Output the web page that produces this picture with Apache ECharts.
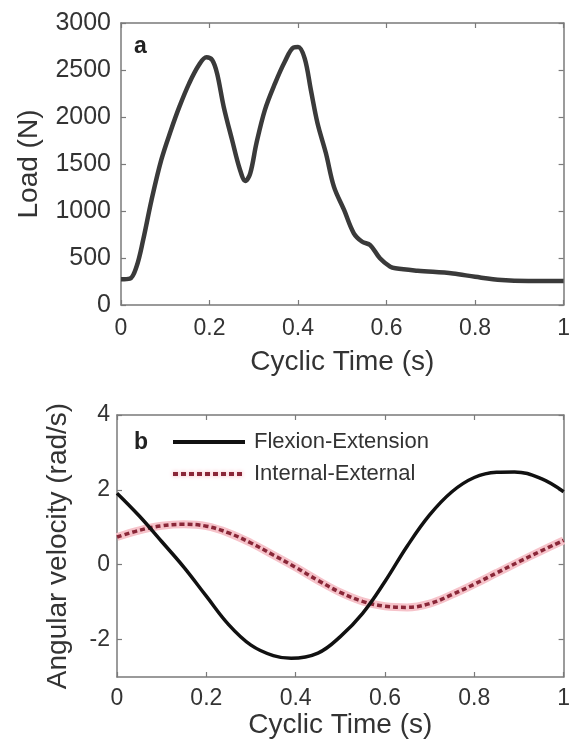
<!DOCTYPE html>
<html><head><meta charset="utf-8">
<script src="https://cdn.jsdelivr.net/npm/echarts@6/dist/echarts.min.js"></script>
<style>html,body{margin:0;padding:0;background:#fff}#c{width:573px;height:745px}</style>
</head><body><div id="c"></div>
<script>
// Panel a: load vs cyclic time
const loadTime  = [0, 0.02, 0.035, 0.05, 0.069, 0.091, 0.113, 0.132, 0.154, 0.176, 0.193, 0.206, 0.217, 0.232, 0.251, 0.269, 0.281, 0.292, 0.306, 0.325, 0.348, 0.37, 0.39, 0.4, 0.415, 0.429, 0.444, 0.463, 0.481, 0.504, 0.526, 0.545, 0.563, 0.585, 0.608, 0.62, 0.67, 0.75, 0.8, 0.86, 0.92, 1.0];
const loadValue = [273, 280, 407, 691, 1117, 1543, 1862, 2110, 2358, 2553, 2635, 2606, 2465, 2110, 1755, 1436, 1320, 1401, 1720, 2074, 2358, 2588, 2740, 2745, 2624, 2287, 1933, 1614, 1259, 1011, 763, 673, 638, 497, 408, 390, 365, 335, 300, 265, 255, 255];
// Panel b: angular velocity
const feTime  = [0, 0.05, 0.1, 0.15, 0.2, 0.25, 0.3, 0.35, 0.39, 0.45, 0.5, 0.55, 0.6, 0.65, 0.7, 0.75, 0.8, 0.85, 0.89, 0.95, 1.0];
const feValue = [1.91, 1.3, 0.62, -0.07, -0.84, -1.6, -2.15, -2.43, -2.5, -2.36, -1.92, -1.3, -0.45, 0.5, 1.33, 1.95, 2.33, 2.47, 2.48, 2.3, 1.95];
const ieTime  = [0, 0.05, 0.1, 0.15, 0.2, 0.25, 0.3, 0.35, 0.4, 0.45, 0.5, 0.55, 0.6, 0.65, 0.7, 0.75, 0.8, 0.85, 0.9, 0.95, 1.0];
const ieValue = [0.74, 0.92, 1.04, 1.08, 1.03, 0.85, 0.58, 0.26, -0.07, -0.42, -0.74, -0.98, -1.11, -1.14, -1.04, -0.8, -0.52, -0.22, 0.08, 0.37, 0.65];
const seriesNames = ['Flexion-Extension', 'Internal-External'];
const velTicks = [-2, 0, 2, 4];

const zip = (a, b) => a.map((t, i) => [t, b[i]]);
const FONT = "'Liberation Sans', Arial, sans-serif";
const frameLine = { show: true, onZero: false, lineStyle: { color: '#7a7a7a', width: 1.5 } };
const tick = { show: true, inside: true, length: 5, lineStyle: { color: '#7a7a7a', width: 1.2 } };
const plain = v => String(v);

function xPair(grid, labelSize, margin, nameGap) {
  return [
    { gridIndex: grid, type: 'value', min: 0, max: 1, interval: 0.2, position: 'bottom',
      axisLine: frameLine, axisTick: tick, splitLine: { show: false },
      axisLabel: { fontFamily: FONT, fontSize: labelSize, color: '#333', margin: margin, formatter: plain },
      name: 'Cyclic Time (s)', nameLocation: 'middle', nameGap: nameGap,
      nameTextStyle: { fontFamily: FONT, fontSize: 28, color: '#333' } },
    { gridIndex: grid, type: 'value', min: 0, max: 1, interval: 0.2, position: 'top',
      axisLine: frameLine, axisTick: tick, splitLine: { show: false }, axisLabel: { show: false } }
  ];
}

const option = {
  backgroundColor: '#fff',
  animation: false,
  title: [
    { text: 'a', left: 129, top: 30, textStyle: { fontFamily: FONT, fontSize: 23, fontWeight: 'bold', color: '#222' } },
    { text: 'b', left: 129, top: 426, textStyle: { fontFamily: FONT, fontSize: 23, fontWeight: 'bold', color: '#222' } }
  ],
  grid: [
    { left: 121, top: 23, width: 448, height: 282 },
    { left: 117, top: 415, width: 450, height: 262 }
  ],
  legend: {
    data: [
      { name: seriesNames[0], lineStyle: { width: 4, color: '#111' } },
      { name: seriesNames[1], lineStyle: { width: 4, color: '#8a2738', type: [5, 3], shadowColor: '#f3a9b4', shadowBlur: 4 } }
    ],
    orient: 'vertical', left: 171, top: 431, padding: 0, itemWidth: 72, itemHeight: 14, itemGap: 10,
    itemStyle: { opacity: 0 },
    textStyle: { fontFamily: FONT, fontSize: 22, color: '#333', padding: [0, 0, 0, 4] }
  },
  xAxis: [...xPair(0, 23, 12, 43), ...xPair(1, 23, 10, 31)],
  yAxis: [
    { gridIndex: 0, type: 'value', min: 0, max: 3000, interval: 500, position: 'left',
      axisLine: frameLine, axisTick: tick, splitLine: { show: false },
      axisLabel: { fontFamily: FONT, fontSize: 25, color: '#333', margin: 10, formatter: plain },
      name: 'Load (N)', nameLocation: 'middle', nameGap: 78,
      nameTextStyle: { fontFamily: FONT, fontSize: 28, color: '#333' } },
    { gridIndex: 0, type: 'value', min: 0, max: 3000, interval: 500, position: 'right',
      axisLine: frameLine, axisTick: tick, splitLine: { show: false }, axisLabel: { show: false } },
    { gridIndex: 1, type: 'value', min: -3, max: 4, position: 'left',
      axisLine: frameLine, axisTick: Object.assign({}, tick, { customValues: velTicks }), splitLine: { show: false },
      axisLabel: { fontFamily: FONT, fontSize: 23, color: '#333', margin: 7, customValues: velTicks, formatter: plain },
      name: 'Angular velocity (rad/s)', nameLocation: 'middle', nameGap: 45,
      nameTextStyle: { fontFamily: FONT, fontSize: 28, color: '#333' } },
    { gridIndex: 1, type: 'value', min: -3, max: 4, position: 'right',
      axisLine: frameLine, axisTick: Object.assign({}, tick, { customValues: velTicks }), splitLine: { show: false },
      axisLabel: { show: false } }
  ],
  series: [
    { type: 'line', xAxisIndex: 0, yAxisIndex: 0, data: zip(loadTime, loadValue), smooth: 0.35,
      symbol: 'none', lineStyle: { color: '#3a3a3a', width: 4.5 }, z: 3 },
    { type: 'line', xAxisIndex: 2, yAxisIndex: 2, data: zip(ieTime, ieValue), smooth: 0.4,
      symbol: 'none', lineStyle: { color: '#f6c3ca', width: 8 }, z: 2, silent: true },
    { name: seriesNames[0], type: 'line', xAxisIndex: 2, yAxisIndex: 2, data: zip(feTime, feValue), smooth: 0.4,
      symbol: 'none', itemStyle: { color: '#111' }, lineStyle: { color: '#111', width: 3.5 }, z: 4 },
    { name: seriesNames[1], type: 'line', xAxisIndex: 2, yAxisIndex: 2, data: zip(ieTime, ieValue), smooth: 0.4,
      symbol: 'none', itemStyle: { color: '#8a2738' }, lineStyle: { color: '#8a2738', width: 3.5, type: [5, 3] }, z: 3 }
  ]
};
echarts.init(document.getElementById('c'), null, { renderer: 'canvas' }).setOption(option);
</script>
</body></html>
